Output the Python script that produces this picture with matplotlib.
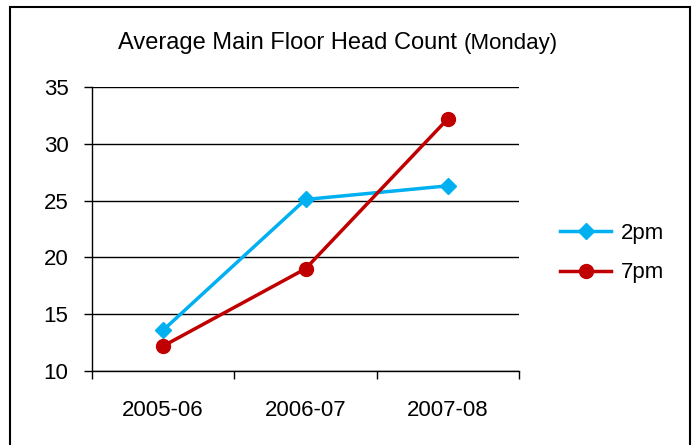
import matplotlib.pyplot as plt
from matplotlib.patches import Rectangle

years = ["2005-06", "2006-07", "2007-08"]
count_2pm = [13.6, 25.1, 26.3]
count_7pm = [12.2, 19.0, 32.2]

plt.rcParams['font.family'] = ['Liberation Sans', 'DejaVu Sans']

fig = plt.figure(figsize=(6.94, 4.45), dpi=100)
ax = fig.add_axes([92 / 694, 1 - 371 / 445, (519 - 92) / 694, (371 - 87) / 445])

# outer chart border
fig.patches.append(Rectangle((10 / 694, -0.05), 680 / 694, 1.0 - 7 / 445 + 0.05,
                             transform=fig.transFigure, fill=False,
                             edgecolor='black', linewidth=1.5))

x = [i + 0.5 for i in range(len(years))]
ax.plot(x, count_2pm, color='#00b0f0', linewidth=2.5, marker='D', markersize=8,
        label='2pm', zorder=3)
ax.plot(x, count_7pm, color='#c00000', linewidth=2.5, marker='o', markersize=10,
        label='7pm', zorder=3)

ax.set_xlim(0, len(years))
ax.set_ylim(10, 35)
ax.set_yticks([10, 15, 20, 25, 30, 35])
ax.yaxis.grid(True, color='black', linewidth=1)
ax.set_axisbelow(True)

ax.set_xticks(range(len(years) + 1))
ax.set_xticklabels([])
ax.set_xticks(x, minor=True)
ax.set_xticklabels(years, minor=True)
ax.tick_params(axis='x', which='major', length=6, width=1, direction='out')
ax.tick_params(axis='x', which='minor', length=0, pad=21, labelsize=16)
ax.tick_params(axis='y', length=6, width=1, labelsize=16, pad=11)

for s in ['top', 'right']:
    ax.spines[s].set_visible(False)
for s in ['left', 'bottom']:
    ax.spines[s].set_linewidth(1)
    ax.spines[s].set_color('black')

fig.text(457 / 694, 1 - 43 / 445, "Average Main Floor Head Count", ha='right', va='center',
         fontsize=17)
fig.text(464 / 694, 1 - 43 / 445, "(Monday)", ha='left', va='center', fontsize=16)

ax.legend(loc='center left', bbox_to_anchor=(540 / 694, 1 - 253 / 445),
          bbox_transform=fig.transFigure, frameon=False, fontsize=16,
          handlelength=2.3, handletextpad=0.45, labelspacing=0.85)

fig.savefig('out.png', dpi=100)
